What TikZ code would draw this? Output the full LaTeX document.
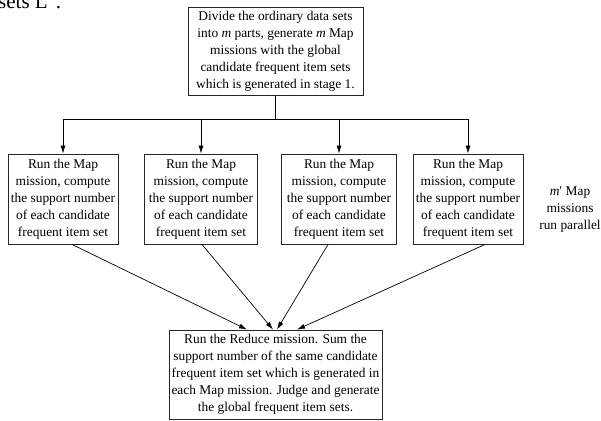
\documentclass[tikz,border=0pt]{standalone}
\usepackage{fontspec}
\setmainfont{Liberation Serif}
\usetikzlibrary{arrows.meta}
\begin{document}
\begin{tikzpicture}[x=1pt,y=-1pt,
  txt/.style={inner sep=0pt, align=center, font=\fontsize{13.4}{17}\selectfont},
  box/.style={txt, draw=black!85, line width=0.9pt},
  arr/.style={-{Latex[length=8pt,width=5pt]}, line width=0.7pt},
  conn/.style={line width=0.7pt}]
\useasboundingbox (0,0) rectangle (601,420);
\node[anchor=base west, font=\fontsize{21}{24}\selectfont, inner sep=0pt] (cap) at (-2,9) {sets L′\,.};
\node[box, minimum width=175, minimum height=88] (top) at (275.5,51.5)
  {Divide the ordinary data sets\\ into \textit{m} parts, generate \textit{m} Map\\ missions with the global\\ candidate frequent item sets\\ which is generated in stage 1.};
\node[box, minimum width=110, minimum height=90] (m1) at (63,199)
  {Run the Map\\ mission, compute\\ the support number\\ of each candidate\\ frequent item set};
\node[box, minimum width=113, minimum height=90] (m2) at (201,199)
  {Run the Map\\ mission, compute\\ the support number\\ of each candidate\\ frequent item set};
\node[box, minimum width=115, minimum height=90] (m3) at (339,199)
  {Run the Map\\ mission, compute\\ the support number\\ of each candidate\\ frequent item set};
\node[box, minimum width=110, minimum height=90] (m4) at (468,199)
  {Run the Map\\ mission, compute\\ the support number\\ of each candidate\\ frequent item set};
\node[txt] (side) at (570,210) {\textit{m}′ Map\\ missions\\ run parallel};
\node[box, minimum width=213, minimum height=89] (red) at (275.5,374.5)
  {Run the Reduce mission. Sum the\\ support number of the same candidate\\ frequent item set which is generated in\\ each Map mission. Judge and generate\\ the global frequent item sets.};
\coordinate (hub) at (275.5,119);
\coordinate (h1) at (m1.north |- hub);
\coordinate (h2) at (m2.north |- hub);
\coordinate (h3) at (m3.north |- hub);
\coordinate (h4) at (m4.north |- hub);
\draw[line width=1.6pt] (top.south) -- (hub);
\draw[conn] (h1) -- (h4);
\foreach \i in {1,2,3,4} {\draw[arr] (h\i) -- (m\i.north);}
\draw[arr] ([xshift=9pt]m1.south) -- ([xshift=-28.5pt]red.north);
\draw[arr] ([xshift=1pt]m2.south) -- ([xshift=-2.5pt]red.north);
\draw[arr] ([xshift=-11pt]m3.south) -- ([xshift=1.5pt]red.north);
\draw[arr] ([xshift=17pt]m4.south) -- ([xshift=21.5pt]red.north);
\end{tikzpicture}
\end{document}
